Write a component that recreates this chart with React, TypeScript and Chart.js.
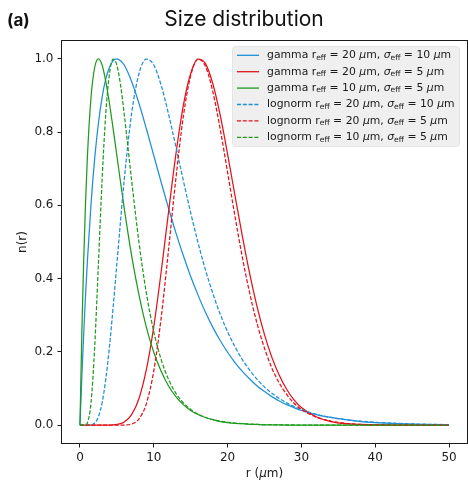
import React, { useEffect, useRef } from 'react';
import { Chart, registerables } from 'chart.js';

Chart.register(...registerables);

// ---------- data ----------
const radius = [0, 0.25, 0.5, 0.75, 1, 1.5, 2, 2.5, 3, 3.5, 4, 4.5, 5, 5.5, 6, 7, 8, 9, 10, 11, 12, 13, 14, 15, 16, 17, 18, 19, 20, 21, 22, 23, 24, 25, 26, 27, 28, 29, 30, 32, 34, 36, 38, 40, 43, 46, 50];

const gammaR20S10 = [0, 0.129, 0.246, 0.351, 0.445, 0.604, 0.729, 0.824, 0.895, 0.945, 0.977, 0.995, 1.0, 0.995, 0.983, 0.938, 0.878, 0.809, 0.736, 0.663, 0.592, 0.525, 0.463, 0.406, 0.355, 0.308, 0.267, 0.231, 0.199, 0.171, 0.147, 0.126, 0.107, 0.092, 0.078, 0.066, 0.056, 0.048, 0.040, 0.029, 0.021, 0.015, 0.010, 0.007, 0.004, 0.0025, 0.001];

const gammaR20S5 = [0, 0, 0, 0, 0, 0, 0, 0, 0, 0, 0.0002, 0.0007, 0.002, 0.0042, 0.009, 0.029, 0.073, 0.152, 0.269, 0.418, 0.582, 0.740, 0.872, 0.960, 0.999, 0.987, 0.932, 0.846, 0.740, 0.627, 0.516, 0.413, 0.323, 0.247, 0.185, 0.136, 0.098, 0.069, 0.048, 0.023, 0.010, 0.004, 0.002, 0.0007, 0.0002, 0, 0];

const gammaR10S5 = [0, 0.246, 0.445, 0.604, 0.729, 0.895, 0.977, 1.0, 0.983, 0.938, 0.878, 0.809, 0.736, 0.663, 0.592, 0.463, 0.355, 0.267, 0.199, 0.147, 0.107, 0.078, 0.056, 0.040, 0.029, 0.021, 0.015, 0.010, 0.007, 0.005, 0.004, 0.0025, 0.002, 0.001, 0.001, 0.0006, 0.0004, 0.0003, 0.0002, 0.0001, 0, 0, 0, 0, 0, 0, 0];

const lognR20S10 = [0, 0, 0, 0, 0, 0.0007, 0.006, 0.023, 0.061, 0.126, 0.215, 0.323, 0.440, 0.558, 0.670, 0.851, 0.960, 0.999, 0.983, 0.928, 0.849, 0.760, 0.668, 0.580, 0.498, 0.424, 0.360, 0.303, 0.255, 0.214, 0.179, 0.150, 0.125, 0.104, 0.087, 0.073, 0.061, 0.051, 0.043, 0.030, 0.021, 0.015, 0.011, 0.008, 0.005, 0.003, 0.0016];

const lognR20S5 = [0, 0, 0, 0, 0, 0, 0, 0, 0, 0, 0, 0, 0, 0, 0.0003, 0.003, 0.017, 0.059, 0.148, 0.293, 0.479, 0.674, 0.842, 0.954, 0.999, 0.980, 0.910, 0.808, 0.690, 0.570, 0.458, 0.360, 0.277, 0.210, 0.156, 0.115, 0.084, 0.060, 0.043, 0.022, 0.011, 0.005, 0.002, 0.001, 0.0004, 0.0001, 0];

const lognR10S5 = [0, 0, 0, 0.0007, 0.006, 0.061, 0.215, 0.440, 0.670, 0.851, 0.960, 0.999, 0.983, 0.928, 0.849, 0.668, 0.498, 0.360, 0.255, 0.179, 0.125, 0.087, 0.061, 0.043, 0.030, 0.021, 0.015, 0.011, 0.008, 0.0055, 0.004, 0.003, 0.002, 0.0016, 0.0012, 0.0009, 0.0007, 0.0005, 0.0004, 0.0002, 0.0001, 0.0001, 0, 0, 0, 0, 0];

const seriesValues = [gammaR20S10, gammaR20S5, gammaR10S5, lognR20S10, lognR20S5, lognR10S5];
const seriesKind = ['gamma', 'gamma', 'gamma', 'lognorm', 'lognorm', 'lognorm'];
const seriesReff = [20, 20, 10, 20, 20, 10];
const seriesSigma = [10, 5, 5, 10, 5, 5];

const xTicks = [0, 10, 20, 30, 40, 50];
const yTicks = [0, 0.2, 0.4, 0.6, 0.8, 1.0];

const titleText = 'Size distribution';
const panelText = '(a)';
const xLabelMain = 'r (';
const xLabelUnit = 'm)';
const yLabelText = 'n(r)';

// ---------- styles ----------
const colors = ['#1f8fd6', '#e3121a', '#1f9a1f', '#1f8fd6', '#e3121a', '#1f9a1f'];
const dashes = [[], [], [], [4, 1.8], [4, 1.8], [4, 1.8]];
const FONT = '"DejaVu Sans"';
const INK = '#1a1a1a';

type Part = { t: string; it?: boolean; sub?: boolean };

function drawRich(ctx: CanvasRenderingContext2D, x: number, y: number, parts: Part[], size: number) {
  let cx = x;
  for (const p of parts) {
    const s = p.sub ? size * 0.7 : size;
    ctx.font = `${p.it ? 'italic ' : ''}${s}px ${FONT}`;
    ctx.fillText(p.t, cx, p.sub ? y + size * 0.22 : y);
    cx += ctx.measureText(p.t).width;
  }
  return cx - x;
}

const decorPlugin = {
  id: 'decor',
  afterDraw(chart: any) {
    const ctx: CanvasRenderingContext2D = chart.ctx;
    const a = chart.chartArea;
    ctx.save();
    // axes frame
    ctx.strokeStyle = INK;
    ctx.lineWidth = 1;
    ctx.setLineDash([]);
    ctx.strokeRect(a.left, a.top, a.right - a.left, a.bottom - a.top);

    // title + panel letter
    ctx.fillStyle = '#111';
    ctx.textBaseline = 'alphabetic';
    ctx.textAlign = 'center';
    ctx.font = '21px Inter';
    ctx.fillText(titleText, 244, 26);
    ctx.textAlign = 'left';
    ctx.font = 'bold 17px Inter';
    ctx.fillText(panelText, 7, 26);

    // x axis label with italic mu
    ctx.fillStyle = INK;
    ctx.textAlign = 'left';
    const xParts: Part[] = [{ t: xLabelMain }, { t: 'μ', it: true }, { t: xLabelUnit }];
    let w = 0;
    for (const p of xParts) {
      ctx.font = `${p.it ? 'italic ' : ''}12px ${FONT}`;
      w += ctx.measureText(p.t).width;
    }
    drawRich(ctx, (a.left + a.right) / 2 - w / 2, 477, xParts, 12);

    // y axis label
    ctx.save();
    ctx.translate(22.5, (a.top + a.bottom) / 2);
    ctx.rotate(-Math.PI / 2);
    ctx.textAlign = 'center';
    ctx.textBaseline = 'middle';
    ctx.font = `12px ${FONT}`;
    ctx.fillText(yLabelText, 0, 0);
    ctx.restore();

    // legend
    const lx = 232, ly = 46, lw = 227, lh = 100;
    ctx.fillStyle = 'rgba(238,238,238,0.92)';
    ctx.strokeStyle = '#e4e4e4';
    ctx.lineWidth = 1;
    ctx.beginPath();
    (ctx as any).roundRect(lx + 0.5, ly + 0.5, lw, lh, 3);
    ctx.fill();
    ctx.stroke();
    const size = 10.85;
    for (let i = 0; i < seriesValues.length; i++) {
      const cy = 55.3 + i * 16.4;
      ctx.strokeStyle = colors[i];
      ctx.lineWidth = 1.3;
      ctx.setLineDash(dashes[i]);
      ctx.beginPath();
      ctx.moveTo(237, cy);
      ctx.lineTo(259, cy);
      ctx.stroke();
      ctx.setLineDash([]);
      ctx.fillStyle = INK;
      ctx.textBaseline = 'middle';
      const parts: Part[] = [
        { t: `${seriesKind[i]} r` },
        { t: 'eff', sub: true },
        { t: ` = ${seriesReff[i]} ` },
        { t: 'μ', it: true },
        { t: 'm, ' },
        { t: 'σ', it: true },
        { t: 'eff', sub: true },
        { t: ` = ${seriesSigma[i]} ` },
        { t: 'μ', it: true },
        { t: 'm' },
      ];
      drawRich(ctx, 267, cy, parts, size);
    }
    ctx.restore();
  },
};

export default function App() {
  const ref = useRef<HTMLCanvasElement>(null);
  useEffect(() => {
    document.body.style.margin = '0';
    const datasets = seriesValues.map((vals, i) => ({
      label: `${seriesKind[i]} ${seriesReff[i]} ${seriesSigma[i]}`,
      data: radius.map((r, j) => ({ x: r, y: vals[j] })),
      borderColor: colors[i],
      backgroundColor: colors[i],
      borderWidth: 1.25,
      borderDash: dashes[i],
      pointRadius: 0,
      fill: false,
      cubicInterpolationMode: 'monotone' as const,
      order: seriesValues.length - i,
    }));
    const chart = new Chart(ref.current!, {
      type: 'line',
      data: { datasets },
      options: {
        animation: false,
        responsive: false,
        devicePixelRatio: 1,
        layout: { padding: { left: 0, right: 0.5, top: 40.5, bottom: 0 } },
        plugins: { legend: { display: false }, tooltip: { enabled: false }, title: { display: false } },
        scales: {
          x: {
            type: 'linear',
            min: -2.5,
            max: 52.5,
            afterFit: (s: any) => { s.height = 38.5; },
            afterBuildTicks: (s: any) => { s.ticks = xTicks.map((v) => ({ value: v })); },
            grid: { drawOnChartArea: false, drawTicks: true, tickLength: 4, color: INK },
            border: { display: true, color: INK },
            ticks: { color: INK, font: { family: 'DejaVu Sans', size: 12 }, padding: 3, maxRotation: 0, callback: (v: any) => String(v) },
          },
          y: {
            type: 'linear',
            min: -0.05,
            max: 1.05,
            afterFit: (s: any) => { s.width = 61.5; },
            afterBuildTicks: (s: any) => { s.ticks = yTicks.map((v) => ({ value: v })); },
            grid: { drawOnChartArea: false, drawTicks: true, tickLength: 4, color: INK },
            border: { display: true, color: INK },
            ticks: { color: INK, font: { family: 'DejaVu Sans', size: 12 }, padding: 4, callback: (v: any) => Number(v).toFixed(1) },
          },
        },
      },
      plugins: [decorPlugin],
    });
    return () => chart.destroy();
  }, []);
  return <canvas ref={ref} width={468} height={482} style={{ display: 'block' }} />;
}
